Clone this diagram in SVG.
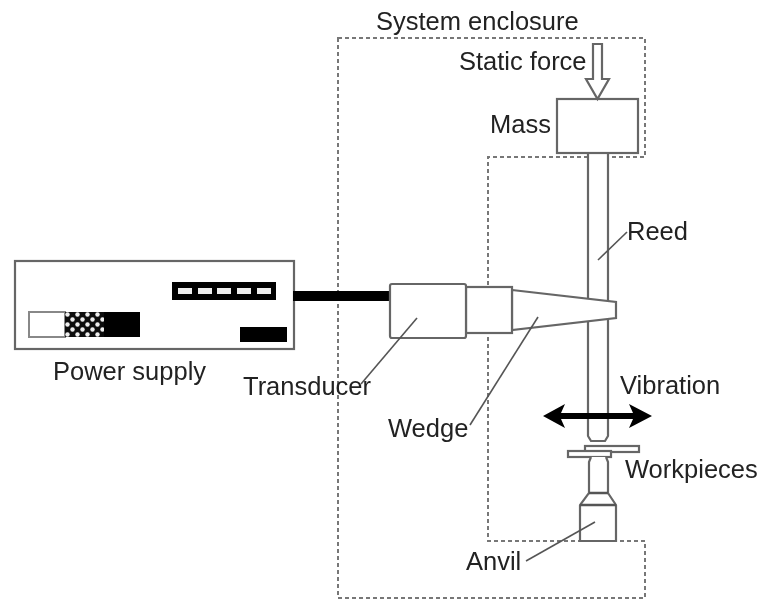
<svg xmlns="http://www.w3.org/2000/svg" width="761" height="600" viewBox="0 0 761 600">
<style>
text{font-family:"Liberation Sans",Arial,sans-serif;font-size:25.500px;fill:#222}
.o{fill:#fff;stroke:#666;stroke-width:2.200}
.k{fill:#000}
.w{fill:#eee}
.l{fill:none;stroke:#555;stroke-width:1.600}
.d{fill:none;stroke:#777;stroke-width:2;stroke-dasharray:4 3}
.s{fill:#fff;stroke:#666;stroke-width:2.200}
</style>
<defs>
<filter id="soft" filterUnits="userSpaceOnUse" x="0" y="0" width="761" height="600"><feGaussianBlur stdDeviation="0.600"/></filter>
<pattern id="chk" width="10" height="10" patternUnits="userSpaceOnUse" x="65" y="312">
<rect width="10" height="10" fill="#111"/>
<circle cx="2.500" cy="2.500" r="2.200" fill="#eee"/>
<circle cx="7.500" cy="7.500" r="2.200" fill="#eee"/>
</pattern>
</defs>
<rect width="761" height="600" fill="#fff"/>
<g filter="url(#soft)">
<g id="enclosure">
<path class="d" d="M338 38H645V157H488V541H645V598H338Z"/>
<text x="376" y="30">System enclosure</text>
</g>
<g id="power-supply">
<rect class="o" x="15" y="261" width="279" height="88"/>
<rect class="k" x="172" y="282" width="104" height="18"/>
<rect class="w" x="178" y="288" width="14" height="6"/>
<rect class="w" x="198" y="288" width="14" height="6"/>
<rect class="w" x="217" y="288" width="14" height="6"/>
<rect class="w" x="237" y="288" width="14" height="6"/>
<rect class="w" x="257" y="288" width="14" height="6"/>
<rect x="29" y="312" width="36" height="25" fill="#fff" stroke="#888" stroke-width="2"/>
<rect x="65" y="312" width="39" height="25" fill="url(#chk)"/>
<rect class="k" x="104" y="312" width="36" height="25"/>
<rect class="k" x="240" y="327" width="47" height="15"/>
<text x="53" y="380">Power supply</text>
</g>
<g id="reed">
<path class="s" d="M588 153V436L591 441H605L608 436V153"/>
<text x="627" y="240">Reed</text>
</g>
<g id="mass">
<rect class="o" x="557" y="99" width="81" height="54"/>
<text x="490" y="133">Mass</text>
</g>
<g id="static-force">
<path class="s" d="M593 44H602V79H609L597.500 99L586 79H593Z"/>
<text x="459" y="70">Static force</text>
</g>
<g id="wedge">
<path class="o" d="M512 290L616 302V318L512 330Z"/>
<rect class="o" x="466" y="287" width="46" height="46"/>
<text x="388" y="437">Wedge</text>
</g>
<g id="transducer">
<rect class="k" x="293" y="291" width="97" height="10"/>
<rect class="o" x="390" y="284" width="76" height="54" rx="2"/>
<text x="243" y="395">Transducer</text>
</g>
<g id="workpieces">
<rect class="o" x="585" y="446" width="54" height="6"/>
<rect class="o" x="568" y="451" width="43" height="6"/>
<text x="625" y="478">Workpieces</text>
</g>
<g id="anvil">
<path class="s" d="M591 457L589 462V493L580 505V541H616V505L608 493V462L606 457"/>
<path fill="none" stroke="#555" stroke-width="2.500" d="M589 493H608M580 505H616"/>
<text x="466" y="570">Anvil</text>
</g>
<g id="connectors">
<path class="l" d="M627 232L598 260"/>
<path class="l" d="M417 318L361 384"/>
<path class="l" d="M538 317L470 425"/>
<path class="l" d="M595 522L526 561"/>
<g id="vibration">
<path fill="#000" d="M543 416L565 404L561 413H633L629 404L652 416L629 428L633 419H561L565 428Z"/>
<text x="620" y="394">Vibration</text>
</g>
</g>
</g>
</svg>
